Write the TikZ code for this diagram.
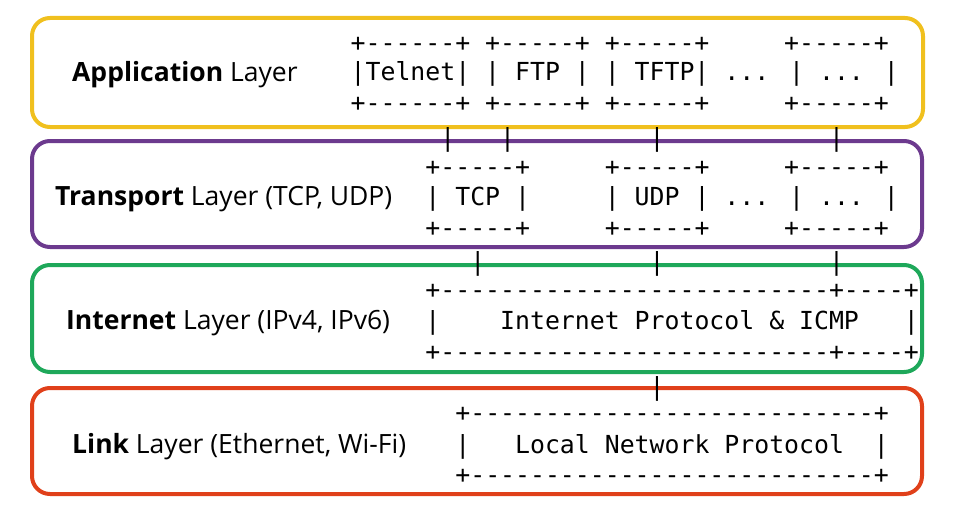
\documentclass[tikz,border=0pt]{standalone}
\usepackage{fontspec}
\setmainfont{Open Sans}
\newfontfamily\mono{DejaVu Sans Mono}[Scale=1]
\begin{document}
\begin{tikzpicture}[x=1pt,y=-1pt,
  layer/.style={line width=4pt,rounded corners=18pt},
  lab/.style={anchor=west,font=\fontsize{26.5}{30}\selectfont,inner sep=0pt},
  art/.style={anchor=base west,inner sep=0pt,font=\mono\fontsize{24.83}{28}\selectfont}]
\useasboundingbox (0,0) rectangle (961,511);
\definecolor{cy}{RGB}{240,192,30}
\definecolor{cp}{RGB}{108,58,142}
\definecolor{cg}{RGB}{30,168,90}
\definecolor{cr}{RGB}{224,64,26}
\newcommand\artrow[4]{\node[art] (#1) at ({350.5+14.95*#2},{#3+8}) {#4};}
% layer frames
\draw[layer,cy] (32,18) rectangle (923,127);
\draw[layer,cp] (32,141) rectangle (922,247);
\draw[layer,cg] (32,265) rectangle (922,372);
\draw[layer,cr] (32,388) rectangle (922,494);
% labels
\node[lab] (la) at (72,75) {\textbf{Application} Layer};
\node[lab] (lt) at (55,199) {\textbf{Transport} Layer (TCP, UDP)};
\node[lab] (li) at (66,323) {\textbf{Internet} Layer (IPv4, IPv6)};
\node[lab] (ll) at (72,447) {\textbf{Link} Layer (Ethernet, Wi-Fi)};
% application
\artrow{a1}{0}{44}{+------+ +-----+ +-----+\ \ \ \ \ +-----+}
\artrow{a2}{0}{73}{|Telnet| | FTP | | TFTP| ... | ... |}
\artrow{a3}{0}{103}{+------+ +-----+ +-----+\ \ \ \ \ +-----+}
\artrow{c1}{6}{138}{|\ \ \ |\ \ \ \ \ \ \ \ \ |\ \ \ \ \ \ \ \ \ \ \ |}
% transport
\artrow{t1}{5}{167}{+-----+\ \ \ \ \ +-----+\ \ \ \ \ +-----+}
\artrow{t2}{5}{197}{| TCP |\ \ \ \ \ | UDP | ... | ... |}
\artrow{t3}{5}{228}{+-----+\ \ \ \ \ +-----+\ \ \ \ \ +-----+}
\artrow{c2}{8}{262}{|\ \ \ \ \ \ \ \ \ \ \ |\ \ \ \ \ \ \ \ \ \ \ |}
% internet
\artrow{i1}{5}{290}{+--------------------------+----+}
\artrow{i2}{5}{321}{|\ \ \ \ Internet Protocol \& ICMP\ \ \ |}
\artrow{i3}{5}{352}{+--------------------------+----+}
\artrow{c3}{20}{387}{|}
% link
\artrow{l1}{7}{413}{+---------------------------+}
\artrow{l2}{7}{445}{|\ \ \ Local Network Protocol\ \ |}
\artrow{l3}{7}{475}{+---------------------------+}
\end{tikzpicture}
\end{document}
